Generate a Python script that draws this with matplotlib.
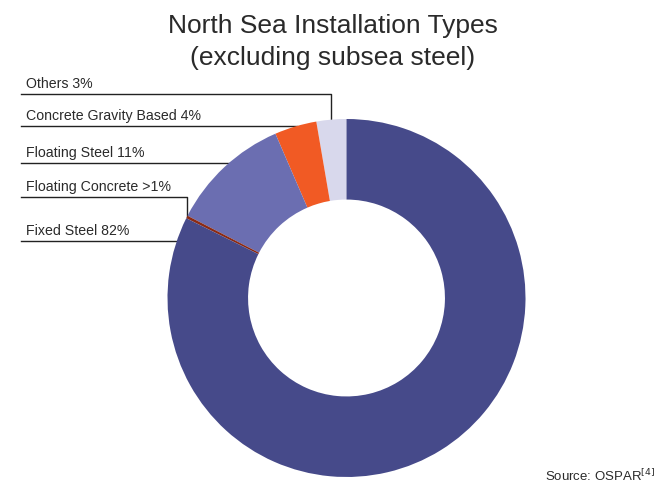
import numpy as np
import matplotlib
matplotlib.use("Agg")
from matplotlib import pyplot as plt

# slices, counter-clockwise from 12 o'clock
labels = ["Others 3%", "Concrete Gravity Based 4%", "Floating Steel 11%",
          "Floating Concrete >1%", "Fixed Steel 82%"]
shares = [2.7, 3.8, 10.9, 0.25, 82.35]
colors = ["#d8d8ec", "#f15a24", "#6b6eb1", "#8b2a14", "#464a8a"]
# label underline heights (pixels from top) and whether the leader bends
label_rows = [95, 127, 164, 198, 242]
elbow = [True, False, False, True, False]
title_lines = ["North Sea Installation Types", "(excluding subsea steel)"]

W, H = 664, 489
plt.rcParams["font.family"] = ["Liberation Sans", "DejaVu Sans"]
fig = plt.figure(figsize=(W / 100, H / 100), dpi=100)

cx, cy, r = 346.5, 299, 179
ax = fig.add_axes([(cx - r) / W, 1 - (cy + r) / H, 2 * r / W, 2 * r / H])
wedges, _ = ax.pie(shares, colors=colors, startangle=90, counterclock=True,
                   radius=1, wedgeprops=dict(width=0.45, linewidth=0))
ax.set_xlim(-1, 1)
ax.set_ylim(-1, 1)
ax.set_aspect("equal")
ax.axis("off")

x_line = (21 - cx) / r
x_text = (26 - cx) / r
for w, lab, row, bend in zip(wedges, labels, label_rows, elbow):
    y = (cy - row) / r
    if bend:
        mid = np.deg2rad((w.theta1 + w.theta2) / 2)
        px, py = np.cos(mid), np.sin(mid)
        xs, ys = [x_line, px, px], [y, y, py]
    else:
        xs, ys = [x_line, -np.sqrt(1 - y ** 2)], [y, y]
    ax.plot(xs, ys, color="#222222", lw=1, clip_on=False, zorder=0)
    ax.text(x_text, y + 7 / r, lab, fontsize=10.2, color="#2a2a2a",
            ha="left", va="baseline")

for line, base in zip(title_lines, [33, 65]):
    fig.text(332.5 / W, 1 - base / H, line, ha="center", va="baseline",
             fontsize=19, color="#2a2a2a")
fig.text(1 - 9 / W, 1 - 481 / H, "Source: OSPAR$^{[4]}$", ha="right",
         va="baseline", fontsize=9.5, color="#2a2a2a")

fig.savefig("out.png", dpi=100)
